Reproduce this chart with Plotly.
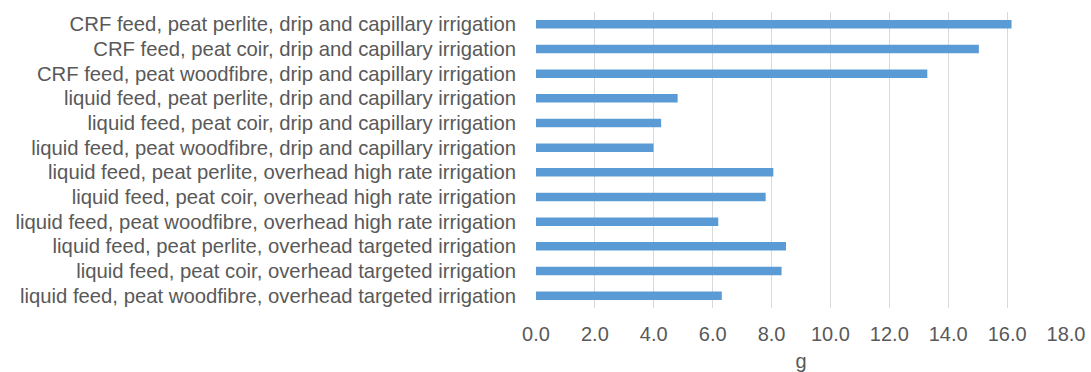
import plotly.graph_objects as go

categories = [
    "CRF feed, peat perlite, drip and capillary irrigation",
    "CRF feed, peat coir, drip and capillary irrigation",
    "CRF feed, peat woodfibre, drip and capillary irrigation",
    "liquid feed, peat perlite, drip and capillary irrigation",
    "liquid feed, peat coir, drip and capillary irrigation",
    "liquid feed, peat woodfibre, drip and capillary irrigation",
    "liquid feed, peat perlite, overhead high rate irrigation",
    "liquid feed, peat coir, overhead high rate irrigation",
    "liquid feed, peat woodfibre, overhead high rate irrigation",
    "liquid feed, peat perlite, overhead targeted irrigation",
    "liquid feed, peat coir, overhead targeted irrigation",
    "liquid feed, peat woodfibre, overhead targeted irrigation",
]
values = [16.15, 15.04, 13.29, 4.81, 4.25, 3.99, 8.06, 7.80, 6.19, 8.49, 8.34, 6.31]
x_ticks = [0, 2, 4, 6, 8, 10, 12, 14, 16, 18]
x_tick_labels = [f"{v:.1f}" for v in x_ticks]
x_title = "g"

fig = go.Figure(go.Bar(
    y=categories,
    x=values,
    orientation="h",
    marker=dict(color="#5b9bd5", line=dict(width=0)),
))

font_color = "#595959"
fig.update_layout(
    width=1091, height=372,
    margin=dict(l=536, r=25, t=11.5, b=64, autoexpand=False),
    paper_bgcolor="white", plot_bgcolor="white",
    bargap=0.656,
    showlegend=False,
    font=dict(family="Liberation Sans, Arial, sans-serif", size=20, color=font_color),
)
fig.update_xaxes(
    range=[0, 18],
    tickvals=x_ticks, ticktext=x_tick_labels,
    showgrid=True, gridcolor="#d9d9d9", gridwidth=1,
    zeroline=False, showline=False,
    ticklabelstandoff=12,
    title=dict(text=x_title, standoff=11, font=dict(size=20, color=font_color)),
    tickfont=dict(size=20, color=font_color),
)
fig.update_yaxes(
    categoryorder="array", categoryarray=categories,
    autorange="reversed",
    showgrid=False, zeroline=False, showline=False,
    ticklabelstandoff=19,
    tickfont=dict(size=20.3, color=font_color),
)

fig.write_html(
    "out.html",
    config={"displayModeBar": False},
    post_script="document.body.style.margin='0';document.body.style.overflow='hidden';",
)
